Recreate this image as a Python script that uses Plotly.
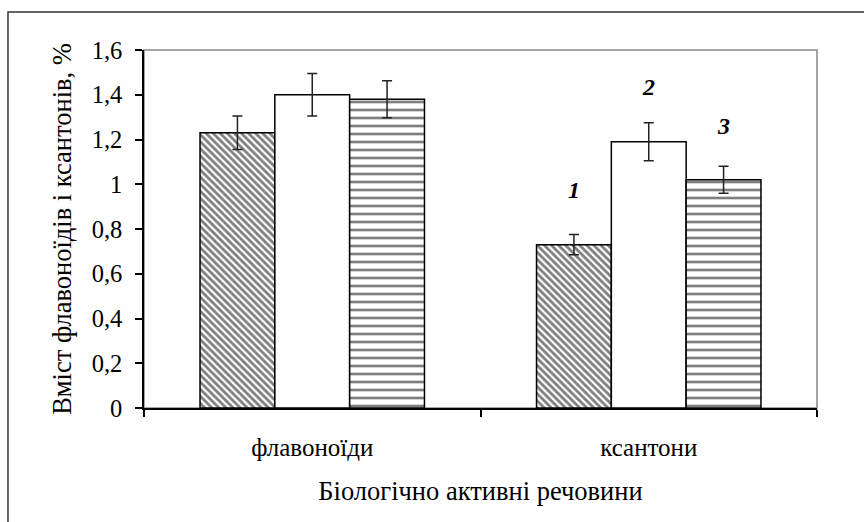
import plotly.graph_objects as go

categories = ["флавоноїди", "ксантони"]
series_names = ["1", "2", "3"]
values_1 = [1.23, 0.73]
values_2 = [1.40, 1.19]
values_3 = [1.38, 1.02]
errors_1 = [0.075, 0.045]
errors_2 = [0.095, 0.085]
errors_3 = [0.083, 0.06]
label_heights = [0.975, 1.436, 1.26]
y_tickvals = [0, 0.2, 0.4, 0.6, 0.8, 1.0, 1.2, 1.4, 1.6]
y_ticktext = ["0", "0,2", "0,4", "0,6", "0,8", "1", "1,2", "1,4", "1,6"]

FONT = "Liberation Serif"

patterns = [
    dict(shape="\\", size=5, solidity=0.55, fgcolor="black", bgcolor="white"),
    dict(shape="", fgcolor="black", bgcolor="white"),
    dict(shape="-", size=8, solidity=0.33, fgcolor="black", bgcolor="white"),
]

fig = go.Figure()
for name, vals, errs, pat in zip(series_names, [values_1, values_2, values_3],
                                 [errors_1, errors_2, errors_3], patterns):
    fig.add_trace(go.Bar(
        x=categories, y=vals, name=name,
        marker=dict(color="white", pattern=pat, line=dict(color="black", width=1.5)),
        error_y=dict(type="data", array=errs, visible=True, color="#222222",
                     thickness=1.5, width=5),
    ))

shifts = [-75, 0, 75]
for name, h, s in zip(series_names, label_heights, shifts):
    fig.add_annotation(x=categories[1], y=h, xref="x", yref="y", xshift=s,
                       text=f"<b><i>{name}</i></b>", showarrow=False,
                       font=dict(family=FONT, size=24, color="black"))

fig.add_shape(type="rect", xref="paper", yref="paper", x0=0, y0=0, x1=1, y1=1,
              line=dict(color="#888888", width=1.5), layer="below")
fig.add_shape(type="rect", xref="paper", yref="paper",
              x0=-0.2021, x1=1.09, y0=-0.36, y1=1.106,
              line=dict(color="#333333", width=1.5), layer="below")

fig.update_layout(
    width=864, height=522,
    margin=dict(l=144, r=47, t=50, b=114, autoexpand=False),
    paper_bgcolor="white", plot_bgcolor="white",
    barmode="group", bargap=0.333, bargroupgap=0,
    showlegend=False,
    font=dict(family=FONT, size=24, color="black"),
)
fig.update_xaxes(
    automargin=False,
    showline=True, linecolor="black", linewidth=1.5,
    ticks="outside", tickson="boundaries", ticklen=7, tickcolor="black", tickwidth=1.5,
    tickfont=dict(family=FONT, size=25), showgrid=False,
    title=dict(text="Біологічно активні речовини", font=dict(family=FONT, size=26.5), standoff=22),
    ticklabelstandoff=16,
)
fig.update_yaxes(
    automargin=False,
    range=[0, 1.6], tickvals=y_tickvals, ticktext=y_ticktext,
    showline=True, linecolor="black", linewidth=1.5,
    ticks="outside", ticklen=7, tickcolor="black", tickwidth=1.5,
    tickfont=dict(family=FONT, size=24.5), showgrid=False, zeroline=False,
    title=dict(text="Вміст флавоноїдів і ксантонів, %", font=dict(family=FONT, size=26.5), standoff=12),
    ticklabelstandoff=8,
)

fig.write_html("out.html",
               config={"displayModeBar": False},
               post_script="document.body.style.margin='0';document.body.style.padding='0';document.body.style.overflow='hidden';")
